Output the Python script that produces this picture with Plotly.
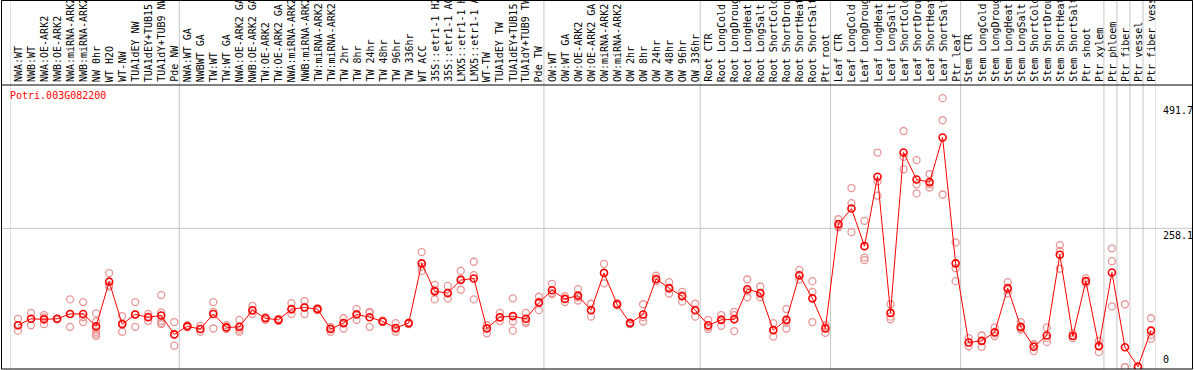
import plotly.graph_objects as go

gene = "Potri.003G082200"

labels = [
    "NWA:WT", "NWB:WT", "NWA:OE-ARK2", "NWB:OE-ARK2", "NWA:miRNA-ARK2", "NWB:miRNA-ARK2",
    "NW 0hr", "WT H2O", "WT-NW", "TUA1dEY NW", "TUA1dEY+TUB15", "TUA1dY+TUB9 NW", "Pde NW",
    "NWA:WT GA", "NWBWT GA", "TW:WT", "TW:WT GA", "NWA:OE-ARK2 GA", "NWB:OE-ARK2 GA",
    "TW:OE-ARK2", "TW:OE-ARK2 GA", "NWA:miRNA-ARK2", "NWB:miRNA-ARK2", "TW:miRNA-ARK2",
    "TW:miRNA-ARK2", "TW 2hr", "TW 8hr", "TW 24hr", "TW 48hr", "TW 96hr", "TW 336hr", "WT ACC",
    "35S::etr1-1 H2", "35S::etr1-1 AC", "LMX5::etr1-1 H", "LMX5::etr1-1 A", "WT-TW",
    "TUA1dEY TW", "TUA1dEY+TUB15", "TUA1dY+TUB9 TW", "Pde TW",
    "OW:WT", "OW:WT GA", "OW:OE-ARK2", "OW:OE-ARK2 GA", "OW:miRNA-ARK2", "OW:miRNA-ARK2",
    "OW 2hr", "OW 8hr", "OW 24hr", "OW 48hr", "OW 96hr", "OW 336hr",
    "Root CTR", "Root LongCold", "Root LongDroug", "Root LongHeat", "Root LongSalt",
    "Root ShortCold", "Root ShortDrou", "Root ShortHeat", "Root ShortSalt", "Ptr root",
    "Leaf CTR", "Leaf LongCold", "Leaf LongDroug", "Leaf LongHeat", "Leaf LongSalt",
    "Leaf ShortCold", "Leaf ShortDrou", "Leaf ShortHeat", "Leaf ShortSalt", "Ptr leaf",
    "Stem CTR", "Stem LongCold", "Stem LongDroug", "Stem LongHeat", "Stem LongSalt",
    "Stem ShortCold", "Stem ShortDrou", "Stem ShortHeat", "Stem ShortSalt", "Ptr shoot",
    "Ptr xylem", "Ptr phloem", "Ptr fiber", "Ptr vessel", "Ptr fiber vess",
]

group_sizes = [13, 28, 12, 10, 10, 11, 1, 1, 1, 1]

means = [
    78, 90, 89, 90, 99, 99, 76, 159, 80, 98, 93, 96, 61,
    76, 71, 99, 74, 75, 106, 91, 88, 108, 111, 108, 71, 82, 98, 93, 85, 73, 82, 193,
    141, 138, 162, 165, 72, 93, 95, 90, 120,
    143, 127, 133, 106, 175, 117, 82, 98, 164, 147, 132, 106,
    78, 88, 89, 145, 138, 69, 88, 171, 128, 72,
    266, 295, 225, 354, 101, 399, 349, 344, 427, 193,
    46, 49, 65, 147, 75, 38, 59, 209, 58, 160, 39,
    176, 37, 1, 68,
]

replicates = [
    [90, 78, 68], [101, 90, 78], [97, 92, 80], [89, 90, 90], [126, 99, 75], [121, 93, 84],
    [100, 85, 72, 66, 62, 58], [175, 152, 150], [95, 82, 66], [121, 98, 75], [99, 94, 86],
    [134, 102, 86, 82, 80], [84, 61, 40],
    [78, 76, 74], [77, 71, 66], [121, 103, 72], [78, 74, 71], [88, 70, 66], [114, 105, 99],
    [93, 92, 88], [90, 88, 86], [119, 107, 99], [123, 112, 99], [110, 108, 106], [75, 72, 66],
    [91, 82, 72], [108, 99, 88], [103, 101, 75], [87, 85, 84], [82, 71, 66], [83, 82, 80],
    [214, 187, 179],
    [153, 144, 126], [151, 137, 128], [179, 164, 144], [196, 171, 126], [78, 73, 63],
    [101, 92, 86], [128, 85, 68], [101, 85, 82], [131, 122, 106],
    [155, 138, 136], [132, 127, 121], [145, 130, 124], [118, 107, 94], [192, 176, 156],
    [119, 117, 115], [83, 82, 80], [117, 93, 85], [170, 163, 160], [158, 146, 137],
    [140, 134, 122], [118, 107, 94],
    [88, 75, 71], [97, 89, 77], [103, 97, 67], [163, 141, 130], [150, 136, 130],
    [82, 69, 57], [108, 83, 72], [181, 170, 163], [160, 140, 84], [78, 74, 64],
    [275, 262, 260], [333, 305, 251], [272, 204, 199], [399, 345, 319], [117, 94, 89],
    [439, 391, 368], [385, 340, 323], [359, 340, 334], [500, 459, 321], [232, 184, 160],
    [54, 46, 39], [59, 49, 38], [74, 63, 58], [158, 144, 137], [84, 72, 70],
    [43, 41, 30], [74, 54, 47], [227, 216, 183], [63, 58, 54], [165, 160, 156],
    [49, 41, 28],
    [221, 197, 113], [117, 0, 0], [2, 1, 0], [91, 60, 53],
]

y_ticks = [0, 258.1, 491.7]

# ---- layout constants (pixels) ----
W, H = 1194, 370
PL, PR, PT, PB = 10, 38, 85, 1
PW = W - PL - PR
PH = H - PT - PB
OFFSET = 0.614          # point position inside each column
Y_MIN, Y_MAX = -3.3, 524.5
MONO = "DejaVu Sans Mono"

n = len(labels)
xs = list(range(n))

rep_x, rep_y = [], []
for i, reps in enumerate(replicates):
    for v in reps:
        rep_x.append(i)
        rep_y.append(v)

fig = go.Figure()
fig.add_trace(go.Scatter(
    x=rep_x, y=rep_y, mode="markers",
    marker=dict(symbol="circle-open", size=7, color="rgb(232,150,150)",
                line=dict(width=1.3, color="rgb(232,150,150)")),
    hoverinfo="skip", showlegend=False))
fig.add_trace(go.Scatter(
    x=xs, y=means, mode="lines+markers",
    line=dict(color="#ff0000", width=1),
    marker=dict(symbol="circle-open", size=7, color="#ff0000",
                line=dict(width=1.6, color="#ff0000")),
    showlegend=False))

shapes = []
# group separators
b = 0
bounds = [0]
for g in group_sizes:
    b += g
    bounds.append(b)
top_paper = (H - PB - 1) / PH
for bd in bounds:
    shapes.append(dict(type="line", xref="x", yref="paper",
                       x0=bd - OFFSET, x1=bd - OFFSET, y0=0, y1=top_paper,
                       line=dict(color="#c4c4c4", width=1), layer="below"))
# horizontal grid at middle tick
shapes.append(dict(type="line", xref="paper", yref="y",
                   x0=(1 - PL) / PW, x1=(W - 1 - PL) / PW, y0=y_ticks[1], y1=y_ticks[1],
                   line=dict(color="#c4c4c4", width=1), layer="below"))
# header separator
shapes.append(dict(type="line", xref="paper", yref="paper",
                   x0=(1 - PL) / PW, x1=(W - 1.5 - PL) / PW, y0=1, y1=1,
                   line=dict(color="black", width=1)))
# outer frame
shapes.append(dict(type="rect", xref="paper", yref="paper",
                   x0=(1.5 - PL) / PW, x1=(W - 1.5 - PL) / PW, y0=0.0, y1=(H - PB - 0.5) / PH,
                   line=dict(color="black", width=1)))

annotations = []
for i, lab in enumerate(labels):
    annotations.append(dict(x=i, xref="x", y=1, yref="paper", yanchor="bottom",
                            xanchor="center", yshift=1, text=lab, textangle=-90,
                            showarrow=False, font=dict(family=MONO, size=10, color="black")))
annotations.append(dict(x=(8 - PL) / PW, xref="paper", y=(H - PB - 96) / PH, yref="paper",
                        xanchor="left", yanchor="middle", text=gene, showarrow=False,
                        font=dict(family=MONO, size=10, color="#ff0000")))
lab_x = (1161 - PL) / PW
for t in y_ticks:
    txt = f"{t:g}"
    annotations.append(dict(x=lab_x, xref="paper", y=t, yref="y", xanchor="left",
                            yanchor="bottom" if t == 0 else "top", text=txt, showarrow=False,
                            font=dict(family=MONO, size=10, color="black")))

fig.update_layout(
    width=W, height=H,
    margin=dict(l=PL, r=PR, t=PT, b=PB, pad=0),
    paper_bgcolor="white", plot_bgcolor="white",
    xaxis=dict(range=[-OFFSET, n - OFFSET], showgrid=False, zeroline=False,
               showticklabels=False, showline=False, fixedrange=True),
    yaxis=dict(range=[Y_MIN, Y_MAX], showgrid=False, zeroline=False,
               showticklabels=False, showline=False, fixedrange=True),
    shapes=shapes, annotations=annotations,
)

fig.write_html(
    "out.html",
    config={"displayModeBar": False},
    post_script="document.body.style.margin='0';document.body.style.overflow='hidden';",
)
